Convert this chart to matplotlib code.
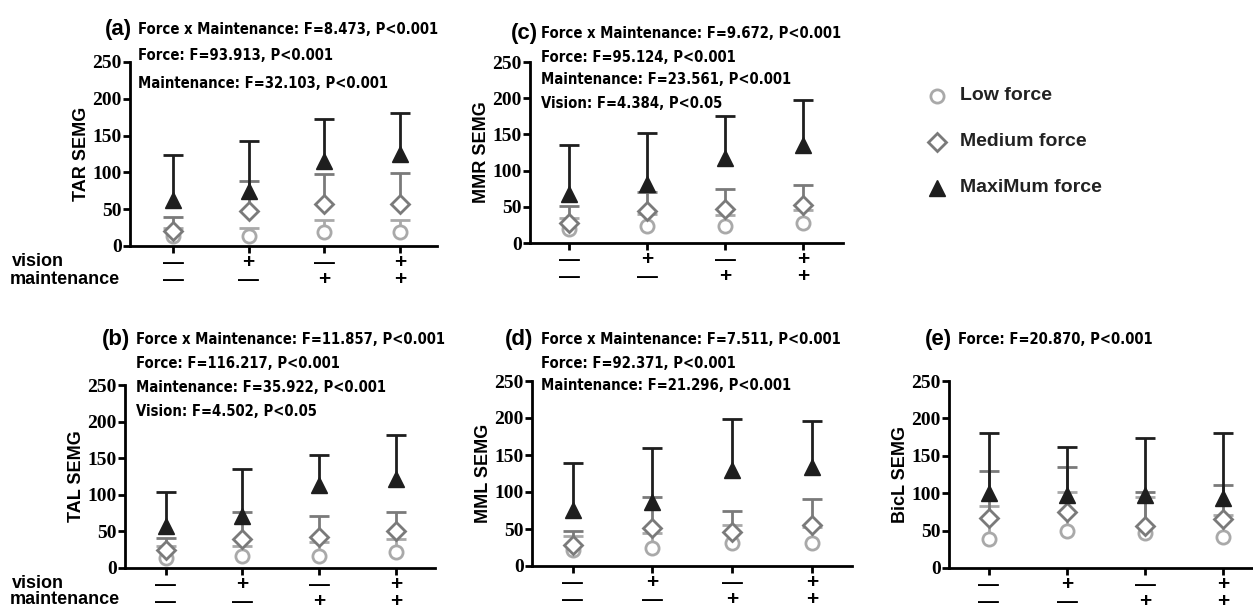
import matplotlib
matplotlib.use("Agg")
import matplotlib.pyplot as plt
from matplotlib import font_manager
import numpy as np

# ---------------- data ----------------
vision_labels = ["—", "+", "—", "+"]
maint_labels = ["—", "—", "+", "+"]
x_pos = [1, 2, 3, 4]

panel_ids = ["a", "b", "c", "d", "e"]
ylabels = {"a": "TAR SEMG", "b": "TAL SEMG", "c": "MMR SEMG", "d": "MML SEMG", "e": "BicL SEMG"}

stats_a = ["Force x Maintenance: F=8.473, P<0.001", "Force: F=93.913, P<0.001", "Maintenance: F=32.103, P<0.001"]
stats_b = ["Force x Maintenance: F=11.857, P<0.001", "Force: F=116.217, P<0.001",
           "Maintenance: F=35.922, P<0.001", "Vision: F=4.502, P<0.05"]
stats_c = ["Force x Maintenance: F=9.672, P<0.001", "Force: F=95.124, P<0.001",
           "Maintenance: F=23.561, P<0.001", "Vision: F=4.384, P<0.05"]
stats_d = ["Force x Maintenance: F=7.511, P<0.001", "Force: F=92.371, P<0.001", "Maintenance: F=21.296, P<0.001"]
stats_e = ["Force: F=20.870, P<0.001"]

low_a = [13, 14, 19, 19];   low_a_err = [11, 11, 17, 17]
med_a = [21, 47, 57, 57];   med_a_err = [18, 41, 41, 42]
max_a = [62, 75, 116, 125]; max_a_err = [62, 67, 57, 56]

low_b = [13, 16, 17, 22];   low_b_err = [17, 14, 18, 18]
med_b = [24, 39, 43, 50];   med_b_err = [17, 37, 28, 26]
max_b = [57, 71, 113, 121]; max_b_err = [47, 64, 42, 61]

low_c = [20, 24, 24, 28];   low_c_err = [15, 16, 15, 18]
med_c = [28, 44, 47, 53];   med_c_err = [23, 26, 27, 27]
max_c = [68, 81, 117, 135]; max_c_err = [67, 71, 59, 63]

low_d = [21, 24, 31, 31];   low_d_err = [19, 21, 24, 22]
med_d = [28, 51, 46, 55];   med_d_err = [19, 42, 29, 36]
max_d = [76, 87, 130, 134]; max_d_err = [63, 73, 69, 62]

low_e = [39, 50, 47, 41];   low_e_err = [44, 52, 48, 30]
med_e = [67, 75, 56, 65];   med_e_err = [63, 60, 46, 46]
max_e = [100, 97, 98, 94];  max_e_err = [81, 65, 76, 87]

series_names = ["Low force", "Medium force", "MaxiMum force"]

panels = {
    "a": (stats_a, (low_a, low_a_err), (med_a, med_a_err), (max_a, max_a_err)),
    "b": (stats_b, (low_b, low_b_err), (med_b, med_b_err), (max_b, max_b_err)),
    "c": (stats_c, (low_c, low_c_err), (med_c, med_c_err), (max_c, max_c_err)),
    "d": (stats_d, (low_d, low_d_err), (med_d, med_d_err), (max_d, max_d_err)),
    "e": (stats_e, (low_e, low_e_err), (med_e, med_e_err), (max_e, max_e_err)),
}

# ---------------- style / layout ----------------
W, H = 1253, 609
fig = plt.figure(figsize=(W / 100, H / 100), dpi=100)

def px_rect(l, t, r, b):
    return [l / W, 1 - b / H, (r - l) / W, (b - t) / H]

layout = {
    "a": (px_rect(130, 62, 437, 246), (0.43, 4.49)),
    "b": (px_rect(125, 385, 435, 568), (0.47, 4.51)),
    "c": (px_rect(530, 62, 843, 243), (0.50, 4.51)),
    "d": (px_rect(532, 381, 852, 566), (0.49, 4.50)),
    "e": (px_rect(949, 381, 1253, 568), (0.49, 4.38)),
}
title_pos = {
    "a": (118, 138, [30, 56, 83]),
    "b": (116, 136, [340, 363, 387, 412]),
    "c": (524, 541, [33, 58, 80, 103]),
    "d": (519, 541, [340, 363, 385]),
    "e": (938, 958, [340]),
}

colors = ["#a9a9a9", "#7a7a7a", "#1e1e1e"]
markers = ["o", "D", "^"]
msizes = [9.5, 9, 11]
sans = ["Liberation Sans", "DejaVu Sans"]
serif = ["Liberation Serif", "DejaVu Serif"]
narrow_fp = font_manager.FontProperties(family="DejaVu Sans", stretch="condensed",
                                        weight="bold", size=10.6)

for pid in panel_ids:
    rect, xl = layout[pid]
    stats, low, med, mx = panels[pid]
    ax = fig.add_axes(rect)
    for i, (vals, errs) in enumerate([low, med, mx]):
        tops = np.array(vals) + np.array(errs)
        ax.vlines(x_pos, vals, tops, colors=colors[i], linewidth=2, zorder=2 + i)
        ax.plot(x_pos, tops, linestyle="none", marker="_", ms=15, mew=2,
                color=colors[i], zorder=2 + i)
        if markers[i] == "^":
            ax.plot(x_pos, vals, linestyle="none", marker="^", ms=msizes[i],
                    mfc=colors[i], mec=colors[i], zorder=2.5 + i)
        else:
            ax.plot(x_pos, vals, linestyle="none", marker=markers[i], ms=msizes[i],
                    mfc="white", mec=colors[i], mew=2, zorder=2.5 + i)
    ax.set_ylim(0, 250)
    ax.set_xlim(*xl)
    ax.set_yticks([0, 50, 100, 150, 200, 250])
    ax.set_xticks(x_pos)
    ax.set_xticklabels([""] * 4)
    for xv, vl, ml in zip(x_pos, vision_labels, maint_labels):
        ax.annotate(vl + "\n" + ml, xy=(xv, 0), xycoords=("data", "axes fraction"), xytext=(0, -25),
                    textcoords="offset pixels", ha="center", va="center", linespacing=0.85,
                    family=sans, fontweight="bold", fontsize=15, annotation_clip=False)
    for lab in ax.get_yticklabels():
        lab.set_family(serif)
        lab.set_fontweight("bold")
        lab.set_fontsize(14)
    ax.tick_params(axis="both", direction="out", length=5, width=2, color="black", pad=1)
    for s in ["top", "right"]:
        ax.spines[s].set_visible(False)
    for s in ["left", "bottom"]:
        ax.spines[s].set_linewidth(2)
    ax.set_ylabel(ylabels[pid], family=sans, fontweight="bold", fontsize=13, labelpad=2)
    ax.patch.set_alpha(0)

    lx, tx, ys = title_pos[pid]
    fig.text(lx / W, 1 - ys[0] / H, f"({pid})", family=sans, fontweight="bold",
             fontsize=16, ha="center", va="center")
    for line, yy in zip(stats, ys):
        fig.text(tx / W, 1 - yy / H, line, fontproperties=narrow_fp,
                 ha="left", va="center")

# row labels
for yy_v, yy_m in [(262, 279), (583, 600)]:
    fig.text(12 / W, 1 - yy_v / H, "vision", family=sans, fontweight="bold", fontsize=13, va="center")
    fig.text(10 / W, 1 - yy_m / H, "maintenance", family=sans, fontweight="bold", fontsize=13, va="center")

# legend
leg_ax = fig.add_axes([0, 0, 1, 1])
leg_ax.set_xlim(0, W)
leg_ax.set_ylim(H, 0)
leg_ax.axis("off")
for i, (name, yy) in enumerate(zip(series_names, [96, 142, 188])):
    if markers[i] == "^":
        leg_ax.plot([937], [yy], marker="^", ms=msizes[i], mfc=colors[i], mec=colors[i], linestyle="none")
    else:
        leg_ax.plot([937], [yy], marker=markers[i], ms=msizes[i], mfc="white", mec=colors[i], mew=2,
                    linestyle="none")
    leg_ax.text(960, yy, name, family=sans, fontweight="bold", fontsize=14, va="center", ha="left",
                color="#222222")

fig.savefig("out.png", dpi=100)
